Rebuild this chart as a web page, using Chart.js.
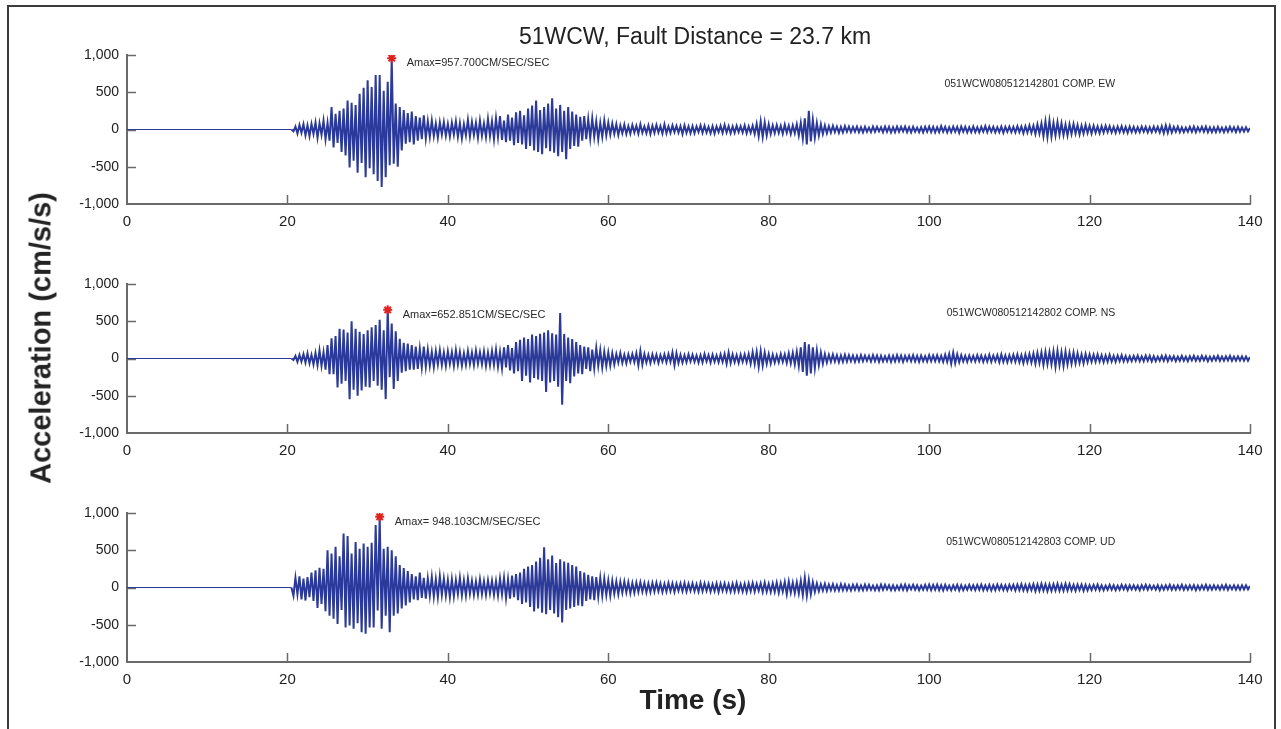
<!DOCTYPE html>
<html>
<head>
<meta charset="utf-8">
<script src="https://cdn.jsdelivr.net/npm/chart.js@4.4.1/dist/chart.umd.min.js"></script>
<style>
body{margin:0;width:1281px;height:729px;overflow:hidden;background:#fff;position:relative;font-family:"Liberation Sans",Arial,sans-serif;color:#222;}
#frame{position:absolute;left:7px;top:5px;width:1269px;height:800px;border:2px solid #3c3c3c;box-sizing:border-box;}
.panel{position:absolute;left:0;}
#title{position:absolute;left:695px;top:36px;transform:translate(-50%,-50%);font-size:23px;white-space:nowrap;}
#xlabel{position:absolute;left:693px;top:700px;transform:translate(-50%,-50%);font-size:28px;font-weight:bold;white-space:nowrap;}
#ylabel{position:absolute;left:41px;top:338px;transform:translate(-50%,-50%) rotate(-90deg);font-size:29px;font-weight:bold;white-space:nowrap;}
</style>
</head>
<body>
<div id="frame"></div>
<canvas class="panel" id="ew" width="1281" height="229" style="top:0px"></canvas>
<canvas class="panel" id="ns" width="1281" height="229" style="top:229px"></canvas>
<canvas class="panel" id="ud" width="1281" height="229" style="top:458px"></canvas>
<div id="title">51WCW, Fault Distance = 23.7 km</div>
<div id="ylabel">Acceleration (cm/s/s)</div>
<div id="xlabel">Time (s)</div>
<script>
const timeTicks = [0, 20, 40, 60, 80, 100, 120, 140];
const accelTicks = [-1000, -500, 0, 500, 1000];
const sampleStart = 20.5, sampleStep = 0.25; // seconds

const stations = ['051WCW080512142801 COMP. EW', '051WCW080512142802 COMP. NS', '051WCW080512142803 COMP. UD'];
const amaxPrefix = ['Amax=', 'Amax=', 'Amax= '];

// acceleration (cm/s/s), one row = 5 s
const ewAccel = [
 0, -25, 40, -55, 60, -45, 70, -80, 55, -90, 75, -60, 95, -110, 85, -70, 120, -130, 90, -150,
 300, -240, 210, -180, 250, -300, 280, -350, 390, -510, 360, -420, 330, -580, 480, -450, 560, -640, 660, -520,
 570, -600, 730, -690, 730, -770, 520, -640, 640, -480, 957.7, -460, 350, -500, 300, -280, 260, -190, 220, -170,
 240, -200, 180, -150, 160, -130, 190, -120, 110, -100, 120, -90, 80, -110, 95, -70, 100, -85, 75, -95,
 90, -70, 110, -100, 85, -120, 70, -80, 130, -95, 100, -75, 90, -110, 120, -85, 80, -100, 140, -90,
 110, -130, 150, -100, 180, -140, 120, -170, 200, -150, 160, -210, 230, -180, 250, -200, 190, -260, 280, -220,
 320, -280, 390, -300, 260, -330, 300, -250, 350, -290, 420, -310, 280, -360, 330, -300, 250, -400, 300, -260,
 240, -220, 200, -230, 170, -150, 180, -130, 140, -120, 150, -100, 110, -130, 90, -100, 120, -80, 90, -70,
 80, -60, 70, -75, 55, -50, 65, -60, 45, -55, 60, -40, 50, -55, 70, -45, 40, -50, 55, -60,
 50, -45, 60, -40, 45, -55, 70, -50, 40, -45, 55, -35, 50, -40, 45, -60, 55, -45, 40, -50,
 45, -50, 40, -35, 55, -45, 50, -40, 35, -50, 45, -55, 40, -35, 50, -45, 60, -40, 45, -50,
 40, -45, 50, -35, 45, -40, 55, -50, 40, -45, 50, -60, 75, -90, 110, -100, 95, -80, 70, -60,
 55, -50, 60, -45, 50, -55, 65, -45, 50, -60, 55, -50, 70, -80, 90, -120, 150, -200, 250, -160,
 130, -110, 90, -80, 70, -60, 55, -50, 45, -40, 50, -35, 40, -45, 35, -40, 45, -30, 40, -35,
 35, -30, 40, -35, 30, -40, 35, -30, 25, -35, 40, -30, 35, -25, 30, -35, 40, -30, 35, -40,
 30, -35, 40, -30, 35, -25, 40, -35, 30, -40, 35, -30, 25, -35, 30, -40, 35, -30, 40, -35,
 35, -40, 30, -35, 45, -30, 35, -40, 30, -35, 40, -30, 35, -45, 40, -30, 35, -40, 30, -35,
 40, -35, 30, -40, 35, -30, 45, -35, 40, -30, 35, -40, 30, -35, 40, -45, 35, -30, 40, -35,
 35, -40, 45, -35, 40, -50, 45, -40, 55, -45, 50, -60, 70, -55, 80, -90, 110, -100, 120, -95,
 90, -80, 100, -70, 85, -75, 65, -80, 70, -60, 75, -55, 60, -65, 50, -55, 60, -45, 50, -55,
 50, -45, 40, -50, 45, -40, 50, -35, 45, -40, 35, -45, 40, -35, 45, -40, 35, -45, 40, -35,
 35, -40, 30, -35, 40, -30, 35, -40, 30, -35, 40, -30, 35, -40, 45, -50, 55, -45, 50, -40,
 35, -30, 40, -35, 30, -35, 25, -30, 35, -30, 40, -35, 30, -25, 35, -30, 40, -35, 30, -35,
 30, -35, 35, -30, 25, -35, 30, -30, 35, -25, 30, -35, 35, -30, 25, -30, 30, -25, 20
];
const nsAccel = [
 0, -20, 35, -45, 50, -40, 60, -55, 70, -65, 50, -80, 75, -90, 110, -100, 85, -150, 180, -210,
 270, -210, 300, -390, 400, -340, 390, -300, 350, -545, 500, -420, 400, -500, 360, -430, 330, -380, 380, -390,
 420, -300, 450, -365, 520, -420, 380, -545, 652.851, -250, 470, -410, 365, -300, 265, -190, 210, -170, 200, -150,
 180, -150, 160, -140, 130, -120, 160, -110, 120, -100, 90, -115, 100, -80, 110, -90, 80, -100, 95, -75,
 85, -100, 110, -80, 90, -95, 70, -85, 100, -75, 80, -90, 105, -70, 85, -80, 95, -100, 80, -90,
 100, -85, 120, -110, 90, -130, 150, -120, 180, -160, 140, -200, 220, -170, 250, -300, 280, -230, 260, -320,
 320, -260, 300, -280, 330, -300, 350, -450, 380, -320, 340, -300, 320, -380, 610, -620, 330, -300, 280, -330,
 260, -240, 220, -200, 180, -210, 160, -140, 150, -170, 120, -130, 140, -100, 110, -120, 90, -100, 80, -95,
 70, -80, 60, -55, 75, -60, 50, -65, 55, -45, 60, -50, 70, -90, 100, -80, 60, -55, 50, -60,
 55, -45, 50, -60, 45, -40, 55, -50, 60, -45, 80, -90, 70, -60, 50, -55, 45, -50, 55, -40,
 50, -45, 40, -55, 45, -50, 60, -40, 45, -55, 50, -45, 40, -50, 55, -45, 60, -70, 80, -60,
 55, -50, 45, -60, 50, -45, 55, -50, 60, -70, 85, -75, 90, -110, 100, -95, 80, -70, 60, -65,
 50, -55, 45, -50, 60, -45, 55, -60, 70, -65, 75, -80, 90, -100, 150, -180, 220, -230, 190, -200,
 150, -130, 110, -90, 80, -70, 60, -55, 50, -45, 55, -40, 45, -50, 40, -45, 50, -40, 45, -35,
 40, -45, 35, -40, 45, -35, 40, -30, 35, -40, 45, -35, 40, -45, 35, -40, 30, -35, 40, -45,
 35, -40, 45, -35, 40, -45, 35, -30, 40, -35, 45, -40, 35, -45, 40, -35, 30, -40, 45, -35,
 40, -35, 45, -40, 35, -45, 50, -45, 60, -70, 80, -65, 55, -50, 45, -40, 35, -45, 40, -35,
 35, -40, 45, -35, 40, -45, 35, -40, 50, -45, 40, -35, 45, -50, 55, -45, 40, -50, 45, -40,
 50, -45, 55, -50, 45, -60, 55, -50, 60, -55, 65, -70, 75, -60, 80, -85, 90, -75, 85, -80,
 95, -110, 100, -90, 85, -100, 90, -80, 75, -70, 80, -65, 70, -60, 55, -65, 60, -50, 55, -45,
 50, -45, 55, -40, 45, -50, 40, -45, 50, -40, 35, -45, 40, -35, 45, -40, 35, -40, 30, -35,
 35, -30, 40, -35, 30, -35, 40, -30, 35, -40, 30, -35, 25, -30, 35, -30, 40, -35, 30, -25,
 30, -35, 25, -30, 35, -30, 25, -35, 30, -25, 35, -30, 25, -30, 35, -25, 30, -35, 25, -30,
 30, -25, 35, -30, 25, -30, 30, -25, 35, -30, 25, -30, 30, -25, 30, -30, 25, -30, 20
];
const udAccel = [
 0, -110, 130, -90, 150, -160, 120, -175, 140, -130, 200, -180, 230, -275, 265, -220, 250, -320, 500, -380,
 455, -420, 545, -490, 420, -300, 725, -535, 690, -510, 455, -555, 610, -480, 520, -600, 590, -620, 545, -535,
 600, -535, 840, -310, 948.103, -555, 520, -380, 545, -600, 500, -380, 420, -350, 300, -280, 260, -240, 220, -200,
 180, -160, 150, -170, 200, -140, 130, -150, 120, -110, 140, -125, 110, -130, 150, -100, 120, -110, 100, -130,
 110, -120, 100, -90, 130, -105, 95, -110, 120, -85, 90, -100, 80, -95, 110, -90, 85, -100, 95, -80,
 90, -100, 85, -110, 120, -95, 130, -140, 110, -150, 160, -130, 180, -170, 200, -220, 250, -200, 280, -260,
 300, -320, 350, -280, 400, -340, 540, -360, 380, -300, 430, -350, 330, -400, 380, -470, 350, -300, 330, -280,
 300, -260, 280, -240, 220, -250, 200, -180, 170, -160, 150, -170, 140, -120, 130, -110, 120, -100, 95, -110,
 90, -85, 80, -90, 75, -70, 80, -65, 70, -75, 60, -70, 65, -60, 70, -55, 60, -65, 55, -60,
 60, -55, 65, -50, 55, -60, 50, -55, 60, -50, 55, -60, 50, -45, 55, -50, 60, -55, 50, -45,
 55, -50, 45, -55, 60, -50, 55, -45, 50, -55, 45, -50, 55, -60, 50, -45, 55, -50, 45, -55,
 50, -55, 60, -50, 45, -55, 50, -60, 55, -50, 60, -55, 50, -45, 55, -60, 65, -55, 50, -60,
 55, -60, 65, -70, 60, -55, 75, -90, 80, -70, 65, -75, 70, -80, 90, -100, 130, -110, 100, -90,
 70, -60, 55, -50, 45, -40, 50, -45, 40, -35, 45, -40, 35, -40, 45, -35, 40, -35, 30, -40,
 35, -30, 40, -35, 30, -35, 40, -30, 35, -30, 25, -35, 30, -35, 40, -30, 35, -25, 30, -35,
 30, -35, 25, -30, 35, -30, 40, -35, 30, -25, 35, -30, 30, -35, 25, -30, 35, -30, 40, -35,
 35, -30, 40, -35, 30, -40, 35, -30, 25, -35, 30, -30, 35, -40, 30, -35, 25, -30, 35, -30,
 30, -35, 35, -30, 40, -35, 30, -35, 35, -40, 30, -35, 40, -30, 35, -35, 30, -40, 35, -30,
 35, -40, 40, -35, 45, -40, 35, -45, 40, -35, 45, -50, 40, -45, 50, -40, 45, -50, 40, -45,
 45, -40, 50, -45, 40, -45, 50, -40, 45, -40, 35, -45, 40, -35, 40, -45, 35, -40, 30, -35,
 35, -30, 40, -35, 30, -35, 25, -30, 35, -30, 30, -35, 25, -30, 35, -25, 30, -35, 30, -25,
 30, -30, 25, -35, 30, -25, 35, -30, 30, -25, 25, -30, 30, -35, 25, -30, 30, -25, 35, -30,
 25, -30, 30, -25, 35, -30, 25, -30, 30, -25, 30, -35, 25, -30, 30, -25, 35, -30, 25, -30,
 30, -25, 25, -30, 30, -25, 35, -30, 25, -25, 30, -30, 25, -30, 30, -25, 30, -25, 20
];

const traceColor = '#2b3a9a';
const axisColor = '#6a6a6a';
const peakColor = '#e3211c';
const stationLabelAt = {t: 123.2, a: 610};

function toPoints(vals){
    let pts=[{x:timeTicks[0],y:0}];
    vals.forEach((v,i)=>pts.push({x:sampleStart+i*sampleStep,y:v}));
    return pts;
}

// inward tick marks, plus the Amax and record labels
const panelMarks = {
    id:'panelMarks',
    beforeDatasetsDraw(chart){
        const {ctx, chartArea:a, scales:{x,y}} = chart;
        ctx.save();
        ctx.strokeStyle=axisColor; ctx.lineWidth=1.5;
        ctx.beginPath();
        timeTicks.slice(1).forEach(t=>{
            let px=Math.round(x.getPixelForValue(t))+0.5;
            ctx.moveTo(px,a.bottom); ctx.lineTo(px,a.bottom-9);
        });
        accelTicks.slice(1).forEach(v=>{
            let py=Math.round(y.getPixelForValue(v))+0.5;
            ctx.moveTo(a.left,py); ctx.lineTo(a.left+9,py);
        });
        ctx.stroke();
        ctx.restore();
    },
    afterDraw(chart,args,opts){
        const {ctx, scales:{x,y}} = chart;
        const p = chart.getDatasetMeta(0).data[0];
        ctx.save();
        ctx.fillStyle='#2a2a2a';
        ctx.textBaseline='middle';
        ctx.font='11px "Liberation Sans", Arial, sans-serif';
        ctx.textAlign='left';
        ctx.fillText(opts.amax, p.x+15, p.y+5);
        ctx.font='10.5px "Liberation Sans", Arial, sans-serif';
        ctx.textAlign='right';
        ctx.fillText(opts.station, x.getPixelForValue(stationLabelAt.t), y.getPixelForValue(stationLabelAt.a));
        ctx.restore();
    }
};

function makePanel(id, vals, k){
    let peak=Math.max(...vals);
    let peakIdx=vals.indexOf(peak);
    let peakPt={x:sampleStart+peakIdx*sampleStep,y:peak};
    return new Chart(document.getElementById(id),{
        type:'line',
        data:{datasets:[
            {data:[peakPt],showLine:false,pointStyle:'star',pointRadius:4.5,borderWidth:2,
             borderColor:peakColor,backgroundColor:peakColor,order:0},
            {data:toPoints(vals),borderColor:traceColor,borderWidth:2,pointRadius:0,tension:0,fill:false,
             borderJoinStyle:'miter',order:1,
             // thin line for the quiet part before the record starts
             segment:{borderWidth:c=>c.p0DataIndex===0?1:undefined}}
        ]},
        options:{
            responsive:false, animation:false, locale:'en-US',
            layout:{padding:{top:55,right:31,bottom:0,left:0}},
            plugins:{legend:{display:false},tooltip:{enabled:false},
                panelMarks:{amax:amaxPrefix[k]+peak.toFixed(3)+'CM/SEC/SEC', station:stations[k]}},
            scales:{
                x:{type:'linear',min:timeTicks[0],max:timeTicks[timeTicks.length-1],
                   afterBuildTicks:s=>{s.ticks=timeTicks.map(v=>({value:v}));},
                   afterFit:s=>{s.height=25;},
                   grid:{display:false,drawTicks:false},
                   border:{display:true,color:axisColor,width:2},
                   ticks:{autoSkip:false,maxRotation:0,padding:9,color:'#222',font:{family:'"Liberation Sans", Arial, sans-serif',size:15}}},
                y:{min:accelTicks[0],max:accelTicks[accelTicks.length-1],
                   afterBuildTicks:s=>{s.ticks=accelTicks.map(v=>({value:v}));},
                   afterFit:s=>{s.width=127;},
                   grid:{display:false,drawTicks:false},
                   border:{display:true,color:axisColor,width:2},
                   ticks:{padding:8,color:'#222',font:{family:'"Liberation Sans", Arial, sans-serif',size:14}}}
            }
        },
        plugins:[panelMarks]
    });
}

makePanel('ew', ewAccel, 0);
makePanel('ns', nsAccel, 1);
makePanel('ud', udAccel, 2);
</script>
</body>
</html>
